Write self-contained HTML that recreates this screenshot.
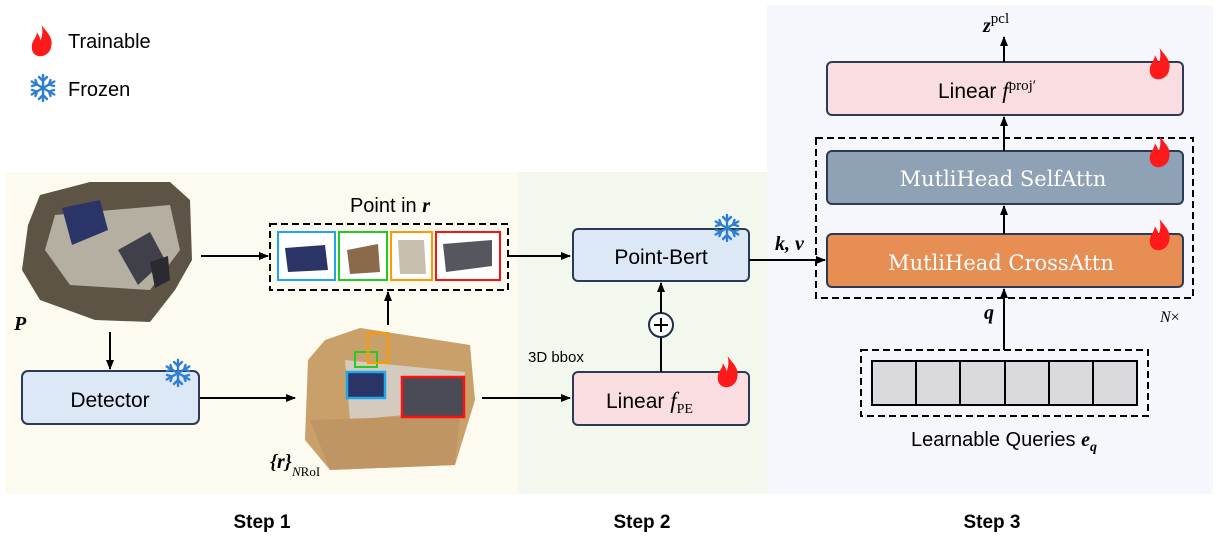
<!DOCTYPE html>
<html><head><meta charset="utf-8"><style>
html,body{margin:0;padding:0;background:#fff;}
svg{display:block;}
.s{font-family:"Liberation Sans",sans-serif;}
.m{font-family:"Liberation Serif",serif;font-style:italic;font-weight:bold;}
</style></head><body>
<svg width="1218" height="536" viewBox="0 0 1218 536" xmlns="http://www.w3.org/2000/svg">
<defs>
<marker id="a" markerWidth="10" markerHeight="10" refX="9" refY="5" orient="auto" markerUnits="userSpaceOnUse"><path d="M0,1 L10,5 L0,9 Z" fill="#000"/></marker>
<g id="flame"><path transform="scale(1.2)" d="M8,0 C12,6 18,10 16,18 C15,24 10,26 7,26 C2,26 -1,22 0,16 C1,12 4,10 4,6 C6,9 7,11 7,13 C9,9 9,4 8,0 Z" fill="#ff1a1a"/></g>
<g id="snow" stroke="#2f7fd0" stroke-width="2.4" fill="none" stroke-linecap="round">
<path d="M0,-13 V13 M-11.3,-6.5 L11.3,6.5 M-11.3,6.5 L11.3,-6.5"/>
<path d="M-4,-11 L0,-7 L4,-11 M-4,11 L0,7 L4,11 M-11,-2 L-6,-3.5 L-7.5,-8 M11,2 L6,3.5 L7.5,8 M-11,2 L-6,3.5 L-7.5,8 M11,-2 L6,-3.5 L7.5,-8"/>
</g>
</defs>
<rect x="5" y="172" width="513" height="322" fill="#fdfaf0"/>
<rect x="518" y="172" width="249" height="322" fill="#f3f8ef"/>
<rect x="767" y="5" width="446" height="489" fill="#f6f6fd"/>
<use href="#flame" x="32" y="25"/>
<text x="68" y="48" class="s" font-size="20">Trainable</text>
<use href="#snow" x="43" y="88"/>
<text x="68" y="96" class="s" font-size="20">Frozen</text>
<!-- point cloud P -->
<path d="M40,195 L90,182 L170,182 L190,200 L192,260 L175,290 L150,322 L95,320 L40,300 L22,270 L28,225 Z" fill="#5e5446"/>
<path d="M55,215 L170,205 L180,250 L150,290 L70,285 L45,250 Z" fill="#b5afa2"/>
<path d="M62,208 L100,200 L108,230 L72,245 Z" fill="#2b3466"/>
<path d="M118,250 L150,232 L165,260 L138,285 Z" fill="#3f4049"/>
<path d="M150,262 L168,256 L170,280 L155,288 Z" fill="#2a2a30"/>
<text x="14" y="330" class="m" font-size="20">P</text>
<!-- point cloud 2 -->
<path d="M325,340 L360,328 L470,345 L475,400 L455,465 L330,470 L305,440 L308,360 Z" fill="#c9a06a"/>
<path d="M345,360 L465,372 L460,410 L350,420 Z" fill="#d3cbbd"/>
<path d="M310,420 L460,415 L455,465 L330,470 Z" fill="#bf9663"/>
<rect x="347" y="372" width="38" height="26" fill="#2b3466" stroke="#1ea6f0" stroke-width="2.5"/>
<rect x="402" y="377" width="62" height="40" fill="#4a4b55" stroke="#ff1010" stroke-width="2.5"/>
<rect x="355" y="352" width="22" height="15" fill="none" stroke="#22cc22" stroke-width="2"/>
<rect x="368" y="333" width="20" height="30" fill="none" stroke="#ff9900" stroke-width="2"/>
<text x="270" y="468" class="m" font-size="20" font-weight="normal">{<tspan font-weight="bold">r</tspan>}</text>
<text x="292" y="476" font-family="Liberation Serif,serif" font-size="13"><tspan font-style="italic">N</tspan>RoI</text>
<rect x="22" y="371" width="177" height="53" rx="6" fill="#dce8f5" stroke="#2b3a55" stroke-width="2"/>
<text x="110" y="407" class="s" font-size="21" text-anchor="middle">Detector</text>
<use href="#snow" x="178" y="373"/>
<line x1="110" y1="332" x2="110" y2="369" stroke="#000" stroke-width="2" marker-end="url(#a)"/>
<line x1="200" y1="398" x2="295" y2="398" stroke="#000" stroke-width="2" marker-end="url(#a)"/>
<line x1="201" y1="256" x2="268" y2="256" stroke="#000" stroke-width="2" marker-end="url(#a)"/>
<line x1="388" y1="325" x2="388" y2="292" stroke="#000" stroke-width="2" marker-end="url(#a)"/>
<text x="390" y="212" class="s" font-size="20" text-anchor="middle">Point in <tspan class="m">r</tspan></text>
<rect x="270" y="224" width="238" height="66" fill="none" stroke="#000" stroke-width="2" stroke-dasharray="7,4"/>
<rect x="278" y="232" width="57" height="48" fill="#fff" stroke="#1ea6f0" stroke-width="2"/>
<path d="M285,248 L325,245 L328,270 L288,272 Z" fill="#2b3466"/>
<rect x="339" y="232" width="48" height="48" fill="#fff" stroke="#22cc22" stroke-width="2"/>
<path d="M347,250 L378,244 L380,272 L350,274 Z" fill="#8a6a4a"/>
<rect x="391" y="232" width="41" height="48" fill="#fff" stroke="#ff9900" stroke-width="2"/>
<path d="M398,240 L424,240 L426,274 L400,274 Z" fill="#c8bfae"/>
<rect x="436" y="232" width="64" height="48" fill="#fff" stroke="#ff1010" stroke-width="2"/>
<path d="M443,244 L492,240 L492,266 L446,272 Z" fill="#55565e"/>
<line x1="508" y1="256" x2="570" y2="256" stroke="#000" stroke-width="2" marker-end="url(#a)"/>
<line x1="482" y1="398" x2="570" y2="398" stroke="#000" stroke-width="2" marker-end="url(#a)"/>
<rect x="573" y="229" width="176" height="52" rx="5" fill="#dce8f5" stroke="#2b3a55" stroke-width="2"/>
<text x="661" y="264" class="s" font-size="21" text-anchor="middle">Point-Bert</text>
<use href="#snow" x="727" y="228"/>
<rect x="573" y="372" width="176" height="53" rx="5" fill="#fadde0" stroke="#2b3a55" stroke-width="2"/>
<text x="606" y="408" class="s" font-size="21">Linear <tspan font-family="Liberation Serif,serif" font-style="italic" font-size="23">f</tspan><tspan font-family="Liberation Serif,serif" font-size="14" dy="5">PE</tspan></text>
<use href="#flame" x="718" y="356"/>
<text x="528" y="362" class="s" font-size="15">3D bbox</text>
<line x1="661" y1="372" x2="661" y2="338" stroke="#000" stroke-width="2"/>
<circle cx="661" cy="325" r="12" fill="#fff" stroke="#1f2d4a" stroke-width="2"/>
<path d="M654,325 H668 M661,318 V332" stroke="#000" stroke-width="2"/>
<line x1="661" y1="313" x2="661" y2="283" stroke="#000" stroke-width="2" marker-end="url(#a)"/>
<line x1="749" y1="260" x2="825" y2="260" stroke="#000" stroke-width="2" marker-end="url(#a)"/>
<text x="775" y="250" class="m" font-size="20">k, v</text>
<rect x="816" y="138" width="377" height="160" fill="none" stroke="#000" stroke-width="2" stroke-dasharray="7,4"/>
<rect x="827" y="62" width="356" height="53" rx="5" fill="#fadde0" stroke="#2b3a55" stroke-width="2"/>
<text x="938" y="98" class="s" font-size="21">Linear <tspan font-family="Liberation Serif,serif" font-style="italic" font-size="23">f</tspan><tspan font-family="Liberation Serif,serif" font-size="15" dy="-8">proj′</tspan></text>
<use href="#flame" x="1150" y="48"/>
<rect x="827" y="151" width="356" height="53" rx="5" fill="#8fa1b4" stroke="#2b3a55" stroke-width="2"/>
<text x="1003" y="186" font-family="DejaVu Serif,Liberation Serif,serif" font-size="21" fill="#fff" text-anchor="middle">MutliHead SelfAttn</text>
<use href="#flame" x="1150" y="136"/>
<rect x="827" y="234" width="356" height="53" rx="5" fill="#e68e54" stroke="#2b3a55" stroke-width="2"/>
<text x="1001" y="270" font-family="DejaVu Serif,Liberation Serif,serif" font-size="21" fill="#fff" text-anchor="middle">MutliHead CrossAttn</text>
<use href="#flame" x="1150" y="219"/>
<line x1="1004" y1="62" x2="1004" y2="37" stroke="#000" stroke-width="2" marker-end="url(#a)"/>
<text x="983" y="32" class="m" font-size="20">z<tspan font-family="Liberation Serif,serif" font-weight="normal" font-style="normal" font-size="15" dy="-9">pcl</tspan></text>
<line x1="1004" y1="151" x2="1004" y2="117" stroke="#000" stroke-width="2" marker-end="url(#a)"/>
<line x1="1004" y1="234" x2="1004" y2="206" stroke="#000" stroke-width="2" marker-end="url(#a)"/>
<line x1="1004" y1="350" x2="1004" y2="289" stroke="#000" stroke-width="2" marker-end="url(#a)"/>
<text x="984" y="319" class="m" font-size="20">q</text>
<text x="1160" y="322" font-family="Liberation Serif,serif" font-size="16"><tspan font-style="italic">N</tspan>×</text>
<rect x="861" y="350" width="287" height="66" fill="none" stroke="#000" stroke-width="2" stroke-dasharray="7,4"/>
<g fill="#d9d9de" stroke="#000" stroke-width="2">
<rect x="872" y="361" width="44" height="44"/><rect x="916" y="361" width="44" height="44"/><rect x="960" y="361" width="45" height="44"/><rect x="1005" y="361" width="44" height="44"/><rect x="1049" y="361" width="44" height="44"/><rect x="1093" y="361" width="44" height="44"/>
</g>
<text x="1004" y="446" class="s" font-size="20" text-anchor="middle">Learnable Queries <tspan class="m">e</tspan><tspan class="m" font-size="14" dy="5">q</tspan></text>
<text x="262" y="528" class="s" font-size="19" font-weight="bold" text-anchor="middle">Step 1</text>
<text x="642" y="528" class="s" font-size="19" font-weight="bold" text-anchor="middle">Step 2</text>
<text x="992" y="528" class="s" font-size="19" font-weight="bold" text-anchor="middle">Step 3</text>
</svg>
</body></html>
